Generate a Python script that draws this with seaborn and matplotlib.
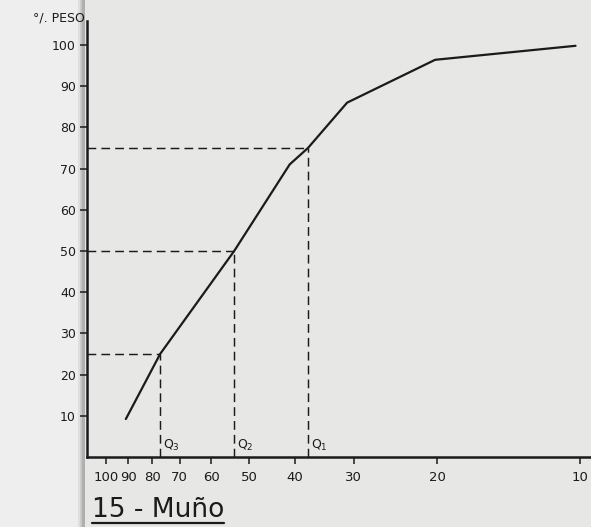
import matplotlib
matplotlib.use("Agg")
import matplotlib.pyplot as plt
from matplotlib.patches import Rectangle
from matplotlib.lines import Line2D
import numpy as np
import pandas as pd
import seaborn as sns

# Cumulative grain-size curve: sieve size vs. cumulative % by weight
tamiz = [91, 77, 53.7, 41, 37.5, 31, 20.2, 10.2]
peso = [9.2, 25, 50, 71, 75, 86, 96.4, 99.8]

# Quartiles read on the curve
cuartil_nombre = ["Q$_3$", "Q$_2$", "Q$_1$"]
cuartil_tamiz = [77, 53.7, 37.5]
cuartil_peso = [25, 50, 75]

xticks = [100, 90, 80, 70, 60, 50, 40, 30, 20, 10]
yticks = [10, 20, 30, 40, 50, 60, 70, 80, 90, 100]

sns.set_style("ticks")
plt.rcParams["font.family"] = ["DejaVu Sans"]

ink = "#1b1b1b"
paper = "#e7e7e6"

fig = plt.figure(figsize=(5.91, 5.27), dpi=100, facecolor=paper)

# lighter paper on the left margin and the scanner fold shadow
fig.patches.append(Rectangle((0, 0), 0.137, 1, transform=fig.transFigure,
                             facecolor="#eeeeee", edgecolor="none", zorder=-2))
for x0, w, a in [(0.132, 0.012, 0.10), (0.136, 0.008, 0.15), (0.139, 0.005, 0.22)]:
    fig.patches.append(Rectangle((x0, 0), w, 1, transform=fig.transFigure,
                                 facecolor="#606060", alpha=a, edgecolor="none",
                                 zorder=-1))

ax = fig.add_axes([0.147, 0.133, 0.853, 0.827])
ax.set_facecolor("none")
ax.set_zorder(1)

df = pd.DataFrame({"tamiz": tamiz, "peso": peso})
sns.lineplot(data=df, x="tamiz", y="peso", sort=False, color=ink, lw=1.6,
             ax=ax, zorder=3)

ax.set_xscale("log")
ax.set_xlim(110, 9.46)
ax.set_ylim(0, 105.8)

# dashed guides from each quartile to both axes
for nombre, qx, qy in zip(cuartil_nombre, cuartil_tamiz, cuartil_peso):
    ax.plot([110, qx], [qy, qy], color=ink, lw=1.05, ls=(0, (6, 3.5)), zorder=2)
    ax.plot([qx, qx], [0, qy], color=ink, lw=1.05, ls=(0, (6, 3.5)), zorder=2)
    ax.text(qx * 0.985, 1.0, nombre, fontsize=9, color=ink, ha="left", va="bottom")

ax.set_xticks(xticks)
ax.set_xticklabels([str(v) for v in xticks], fontsize=9.5, color=ink)
ax.xaxis.set_minor_locator(matplotlib.ticker.NullLocator())
ax.set_yticks(yticks)
ax.set_yticklabels([str(v) for v in yticks], fontsize=9, color=ink)
ax.tick_params(axis="both", direction="out", length=5, width=1.1, color=ink, pad=3)
ax.tick_params(axis="x", pad=5)

for side in ("top", "right"):
    ax.spines[side].set_visible(False)
for side in ("left", "bottom"):
    ax.spines[side].set_color(ink)
    ax.spines[side].set_linewidth(1.8)

ax.set_xlabel("")
ax.set_ylabel("")

fig.text(0.143, 0.966, "°/. PESO", fontsize=9, color=ink, ha="right", va="center")

titulo = fig.text(0.155, 0.019, "15 - Muño", fontsize=19, color=ink,
                  ha="left", va="baseline")
fig.canvas.draw()
bb = titulo.get_window_extent().transformed(fig.transFigure.inverted())
fig.add_artist(Line2D([bb.x0, bb.x1], [0.008, 0.008], transform=fig.transFigure,
                      color=ink, lw=1.6))

fig.savefig("out.png", dpi=100, facecolor=paper)
